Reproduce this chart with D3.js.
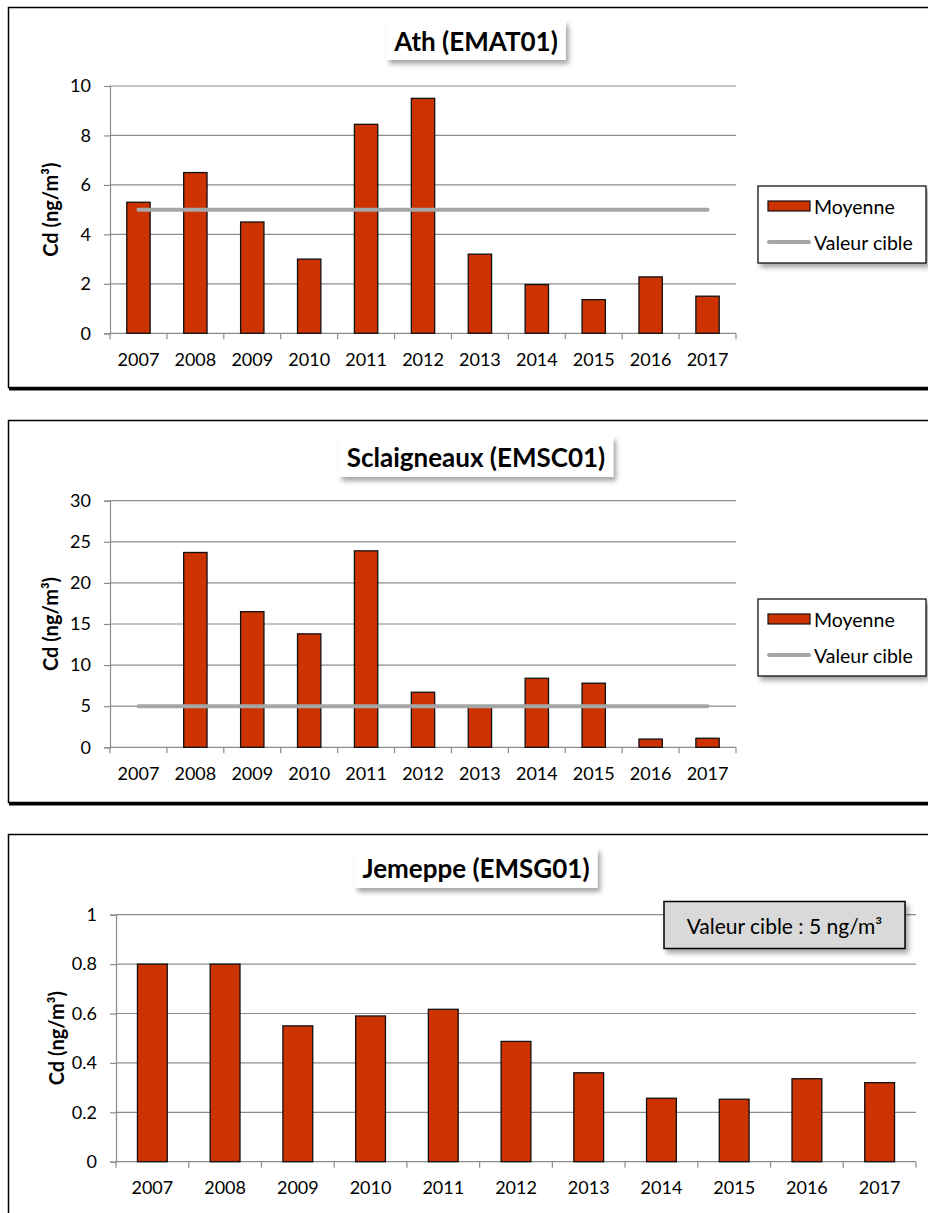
<!DOCTYPE html>
<html>
<head>
<meta charset="utf-8">
<script src="https://cdn.jsdelivr.net/npm/d3@7"></script>
<style>
  html, body { margin: 0; padding: 0; background: #fff; }
  svg { display: block; }
  text { font-family: Lato, "Open Sans", sans-serif; fill: #000; }
</style>
</head>
<body>
<svg id="chart" width="928" height="1213"></svg>
<script>
// Years on the category axis
const years = ["2007", "2008", "2009", "2010", "2011", "2012", "2013", "2014", "2015", "2016", "2017"];

// Annual mean cadmium (ng/m³) per station
const athMoyenne = [5.3, 6.5, 4.5, 3.0, 8.45, 9.5, 3.2, 1.97, 1.36, 2.28, 1.5];
const sclaigneauxMoyenne = [null, 23.7, 16.5, 13.8, 23.9, 6.7, 5.0, 8.4, 7.8, 1.0, 1.1];
const jemeppeMoyenne = [0.8, 0.8, 0.55, 0.59, 0.617, 0.487, 0.36, 0.257, 0.253, 0.336, 0.32];

// Target value (ng/m³)
const valeurCible = 5;

// Y tick values per chart
const athTicks = [0, 2, 4, 6, 8, 10];
const sclaigneauxTicks = [0, 5, 10, 15, 20, 25, 30];
const jemeppeTicks = [0, 0.2, 0.4, 0.6, 0.8, 1];

// Text
const titles = ["Ath (EMAT01)", "Sclaigneaux (EMSC01)", "Jemeppe (EMSG01)"];
const yTitle = "Cd (ng/m³)";
const legendLabels = ["Moyenne", "Valeur cible"];
const noteText = "Valeur cible : 5 ng/m³";

const BAR = "#CC3300";
const TARGET = "#A6A6A6";
const GRID = "#8C8C8C";

const svg = d3.select("#chart");

const defs = svg.append("defs");
const shadow = defs.append("filter").attr("id", "shadow")
  .attr("x", "-20%").attr("y", "-30%").attr("width", "150%").attr("height", "180%");
shadow.append("feDropShadow")
  .attr("dx", 3).attr("dy", 4).attr("stdDeviation", 2.5)
  .attr("flood-color", "#000").attr("flood-opacity", 0.35);

const charts = [
  {
    frame: [7, 387], title: titles[0], titleY: [21, 60],
    plot: { x0: 110, x1: 736, y0: 333.3, y1: 86 },
    values: athMoyenne, ticks: athTicks, max: 10, target: true,
    legend: { x: 758, y: 186, w: 168, h: 77 }
  },
  {
    frame: [420, 802], title: titles[1], titleY: [436, 477],
    plot: { x0: 110, x1: 736, y0: 747.3, y1: 500.7 },
    values: sclaigneauxMoyenne, ticks: sclaigneauxTicks, max: 30, target: true,
    legend: { x: 758, y: 599, w: 168, h: 77 }
  },
  {
    frame: [834, 1260], title: titles[2], titleY: [848, 888],
    plot: { x0: 116, x1: 916, y0: 1161.7, y1: 914.7 },
    values: jemeppeMoyenne, ticks: jemeppeTicks, max: 1, target: false,
    note: { x: 664, y: 901.5, w: 241, h: 47 }
  }
];

charts.forEach(c => {
  const g = svg.append("g");

  // Outer frame with a heavy bottom edge
  g.append("rect")
    .attr("x", 8.5).attr("y", c.frame[0] + 0.5)
    .attr("width", 960).attr("height", c.frame[1] - c.frame[0])
    .attr("fill", "none").attr("stroke", "#000").attr("stroke-width", 1.5);
  g.append("line")
    .attr("x1", 9).attr("x2", 960)
    .attr("y1", c.frame[1] + 2).attr("y2", c.frame[1] + 2)
    .attr("stroke", "#000").attr("stroke-width", 3);

  const p = c.plot;
  const x = d3.scaleBand().domain(years).range([p.x0, p.x1])
    .paddingInner(0.59).paddingOuter(0.295);
  const y = d3.scaleLinear().domain([0, c.max]).range([p.y0, p.y1]);

  // Horizontal gridlines
  g.append("g").selectAll("line").data(c.ticks.filter(t => t > 0)).join("line")
    .attr("x1", p.x0).attr("x2", p.x1)
    .attr("y1", d => y(d)).attr("y2", d => y(d))
    .attr("stroke", GRID).attr("stroke-width", 1.2);

  // Y axis
  const yAxis = d3.axisLeft(y).tickValues(c.ticks).tickSize(6).tickPadding(13)
    .tickFormat(d => String(d));
  const ya = g.append("g").attr("transform", `translate(${p.x0},0)`).call(yAxis);
  ya.select(".domain").attr("stroke", GRID).attr("stroke-width", 1.2);
  ya.selectAll(".tick line").attr("stroke", GRID).attr("stroke-width", 1.2);
  ya.selectAll(".tick text").attr("font-size", 18).attr("font-family", "Lato").attr("fill", "#000");

  // X axis: ticks at category boundaries
  const step = x.step();
  const xa = d3.axisBottom(x).tickSize(0).tickPadding(20);
  const xg = g.append("g").attr("transform", `translate(0,${p.y0})`).call(xa);
  xg.select(".domain").remove();
  xg.selectAll(".tick text").attr("font-size", 18).attr("font-family", "Lato").attr("fill", "#000");
  const bounds = years.map(d => x(d) + x.bandwidth() / 2 - step / 2).concat([x(years[years.length - 1]) + x.bandwidth() / 2 + step / 2]);
  g.append("line").attr("x1", p.x0).attr("x2", p.x1).attr("y1", p.y0).attr("y2", p.y0)
    .attr("stroke", GRID).attr("stroke-width", 1.2);
  g.append("g").selectAll("line").data(bounds).join("line")
    .attr("x1", d => d).attr("x2", d => d)
    .attr("y1", p.y0).attr("y2", p.y0 + 6)
    .attr("stroke", GRID).attr("stroke-width", 1.2);

  // Bars
  const rows = years.map((yr, i) => ({ yr, v: c.values[i] })).filter(d => d.v != null);
  g.append("g").selectAll("rect").data(rows).join("rect")
    .attr("x", d => x(d.yr)).attr("width", x.bandwidth())
    .attr("y", d => y(d.v)).attr("height", d => y(0) - y(d.v))
    .attr("fill", BAR).attr("stroke", "#111").attr("stroke-width", 1.3);

  // Target line
  if (c.target) {
    g.append("line")
      .attr("x1", x(years[0]) + x.bandwidth() / 2)
      .attr("x2", x(years[years.length - 1]) + x.bandwidth() / 2)
      .attr("y1", y(valeurCible)).attr("y2", y(valeurCible))
      .attr("stroke", TARGET).attr("stroke-width", 4).attr("stroke-linecap", "round");
  }

  // Y axis title
  g.append("text")
    .attr("transform", `translate(${p.x0 - 60},${(p.y0 + p.y1) / 2}) rotate(-90)`)
    .attr("text-anchor", "middle").attr("dominant-baseline", "central")
    .attr("font-size", 20).attr("font-weight", "bold")
    .text(yTitle);

  // Title in a shadowed box
  const tg = g.append("g");
  const tb = tg.append("rect").attr("fill", "#fff").attr("filter", "url(#shadow)");
  const tt = tg.append("text")
    .attr("x", 476).attr("y", (c.titleY[0] + c.titleY[1]) / 2)
    .attr("text-anchor", "middle").attr("dominant-baseline", "central")
    .attr("font-size", 26).attr("font-weight", "bold")
    .text(c.title);
  const tw = tt.node().getComputedTextLength();
  tb.attr("x", 476 - tw / 2 - 8).attr("width", tw + 16)
    .attr("y", c.titleY[0]).attr("height", c.titleY[1] - c.titleY[0]);

  // Legend
  if (c.legend) {
    const L = c.legend;
    const lg = g.append("g");
    lg.append("rect").attr("x", L.x).attr("y", L.y).attr("width", L.w).attr("height", L.h)
      .attr("fill", "#fff").attr("stroke", "#000").attr("stroke-width", 1.2)
      .attr("filter", "url(#shadow)");
    const r1 = L.y + 20, r2 = L.y + 56;
    lg.append("rect").attr("x", L.x + 10).attr("y", r1 - 5).attr("width", 42).attr("height", 10)
      .attr("fill", BAR).attr("stroke", "#111").attr("stroke-width", 1.2);
    lg.append("line").attr("x1", L.x + 11).attr("x2", L.x + 51).attr("y1", r2).attr("y2", r2)
      .attr("stroke", TARGET).attr("stroke-width", 4).attr("stroke-linecap", "round");
    lg.selectAll("text.item").data(legendLabels).join("text").attr("class", "item")
      .attr("x", L.x + 56).attr("y", (d, i) => i ? r2 : r1)
      .attr("dominant-baseline", "central").attr("font-size", 19.5)
      .text(d => d);
  }

  // Note box
  if (c.note) {
    const N = c.note;
    g.append("rect").attr("x", N.x).attr("y", N.y).attr("width", N.w).attr("height", N.h)
      .attr("fill", "#D9D9D9").attr("stroke", "#000").attr("stroke-width", 1.5)
      .attr("filter", "url(#shadow)");
    g.append("text").attr("x", N.x + N.w / 2).attr("y", N.y + N.h / 2)
      .attr("text-anchor", "middle").attr("dominant-baseline", "central")
      .attr("font-size", 21).text(noteText);
  }
});
</script>
</body>
</html>
